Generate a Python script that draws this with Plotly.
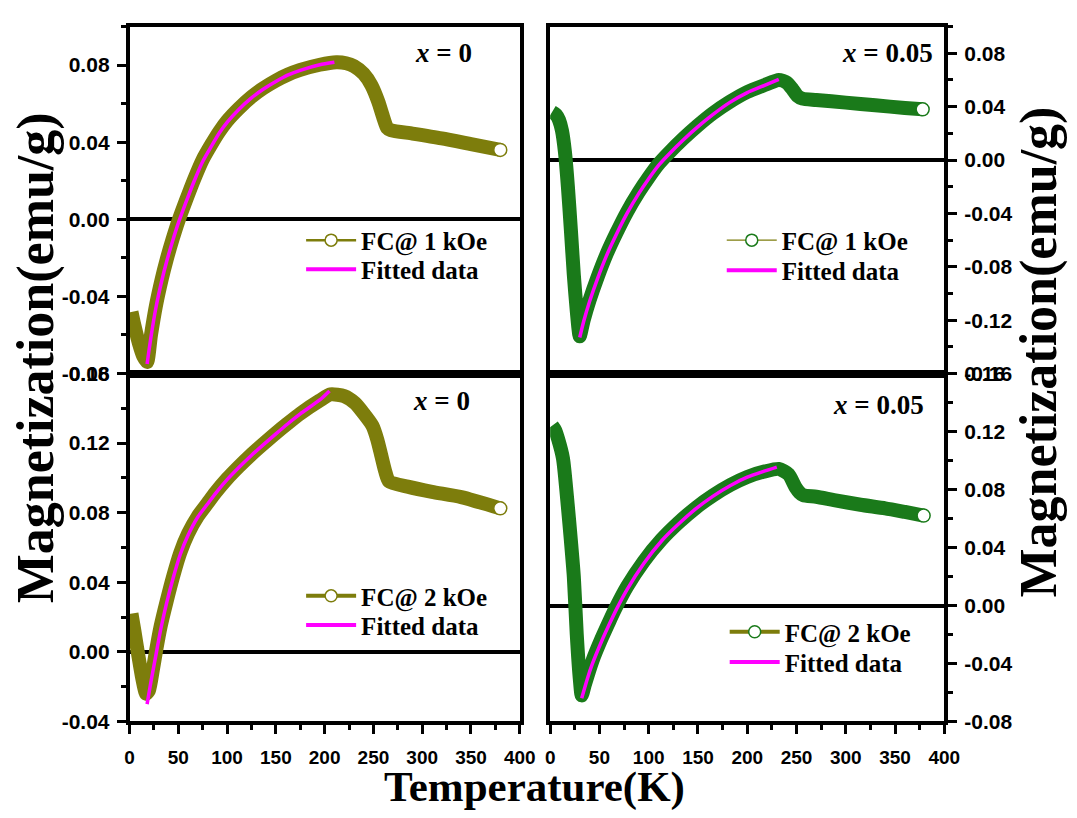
import plotly.graph_objects as go

# ---------------- data ----------------
# Panel a: x = 0, FC @ 1 kOe
T_a = [2, 5, 10, 14, 18, 22, 27, 33, 38, 44, 50, 58, 66, 75, 84, 92, 100, 112, 125, 137, 150,
       162, 175, 195, 212, 222, 230, 240, 248, 255, 260, 264, 268, 290, 320, 350, 380]
M_a = [-0.048, -0.055, -0.065, -0.071, -0.074, -0.060, -0.045, -0.031, -0.021, -0.0105, -0.001,
       0.010, 0.0205, 0.031, 0.039, 0.0455, 0.051, 0.0575, 0.0635, 0.068, 0.072,
       0.075, 0.0775, 0.0802, 0.0815, 0.081, 0.0795, 0.0755, 0.0695, 0.061, 0.053, 0.0475,
       0.0462, 0.0445, 0.042, 0.039, 0.036]
Tfit_a = [18, 22, 27, 33, 38, 44, 50, 58, 66, 75, 84, 92, 100, 112, 125, 137, 150, 162, 175, 195, 210]
Mfit_a = [-0.075, -0.061, -0.046, -0.032, -0.022, -0.0115, -0.002, 0.009, 0.0195, 0.030, 0.038,
          0.0448, 0.0503, 0.057, 0.063, 0.0675, 0.0715, 0.0748, 0.0773, 0.0802, 0.0815]

# Panel b: x = 0.05, FC @ 1 kOe
T_b = [2, 6, 9, 12, 15, 18, 21, 24, 27, 30, 34, 40, 48, 57, 67, 78, 90, 100, 110, 120, 135,
       150, 165, 182, 200, 217, 232, 240, 246, 251, 256, 270, 300, 330, 360, 378]
M_b = [0.036, 0.034, 0.030, 0.022, 0.006, -0.020, -0.052, -0.086, -0.113, -0.132, -0.120,
       -0.105, -0.088, -0.071, -0.055, -0.039, -0.024, -0.013, -0.003, 0.005, 0.016,
       0.026, 0.035, 0.0435, 0.051, 0.056, 0.060, 0.058, 0.053, 0.048, 0.046, 0.045, 0.043,
       0.041, 0.039, 0.038]
Tfit_b = [30, 34, 40, 48, 57, 67, 78, 90, 100, 110, 120, 135, 150, 165, 182, 200, 217, 232]
Mfit_b = [-0.133, -0.121, -0.106, -0.089, -0.072, -0.056, -0.040, -0.025, -0.014, -0.004,
          0.004, 0.015, 0.025, 0.034, 0.043, 0.0505, 0.0558, 0.0605]

# Panel c: x = 0, FC @ 2 kOe
T_c = [2, 5, 9, 13, 17, 20, 24, 27, 32, 38, 45, 52, 60, 70, 80, 88, 100, 112, 124, 137, 150,
       162, 175, 195, 206, 220, 231, 240, 249, 254, 258, 262, 266, 285, 310, 340, 380]
M_c = [0.022, 0.012, -0.002, -0.015, -0.024, -0.022, -0.010, 0.000, 0.015, 0.029, 0.044,
       0.057, 0.068, 0.078, 0.0855, 0.0915, 0.0995, 0.1065, 0.113, 0.1195, 0.1258,
       0.1313, 0.137, 0.1445, 0.148, 0.147, 0.143, 0.137, 0.130, 0.122, 0.113, 0.104, 0.098,
       0.095, 0.092, 0.089, 0.0825]
Tfit_c = [18, 22, 27, 32, 38, 45, 52, 60, 70, 80, 88, 100, 112, 124, 137, 150, 162, 175, 195, 205]
Mfit_c = [-0.030, -0.017, -0.002, 0.013, 0.028, 0.043, 0.056, 0.067, 0.0775, 0.085, 0.091,
          0.099, 0.106, 0.1125, 0.119, 0.1253, 0.131, 0.1368, 0.1448, 0.150]

# Panel d: x = 0.05, FC @ 2 kOe
T_d = [2, 5, 8, 13, 18, 21, 24, 27, 30, 32, 35, 43, 52, 60, 67, 78, 95, 113, 130, 148, 165,
       183, 200, 218, 232, 242, 249, 253, 257, 270, 288, 315, 340, 360, 379]
M_d = [0.124, 0.121, 0.115, 0.1015, 0.068, 0.045, 0.020, -0.020, -0.050, -0.062, -0.055,
       -0.038, -0.023, -0.011, -0.001, 0.013, 0.0305, 0.0455, 0.057, 0.0675, 0.0758,
       0.0832, 0.0887, 0.0925, 0.0942, 0.0904, 0.0816, 0.078, 0.076, 0.075, 0.0727, 0.0695,
       0.067, 0.0645, 0.062]
Tfit_d = [32, 38, 43, 52, 60, 67, 78, 95, 113, 130, 148, 165, 183, 200, 218, 230]
Mfit_d = [-0.064, -0.050, -0.040, -0.025, -0.013, -0.003, 0.011, 0.029, 0.0445, 0.056,
          0.0668, 0.0753, 0.0828, 0.0885, 0.0928, 0.0955]

x_ticks = [0, 50, 100, 150, 200, 250, 300, 350, 400]
x_ticktext = ["0", "50", "100", "150", "200", "250", "300", "350", "400"]
ya_ticks = [-0.08, -0.04, 0.00, 0.04, 0.08]
ya_text = ["-0.08", "-0.04", "0.00", "0.04", "0.08"]
yb_ticks = [-0.16, -0.12, -0.08, -0.04, 0.00, 0.04, 0.08]
yb_text = ["-0.16", "-0.12", "-0.08", "-0.04", "0.00", "0.04", "0.08"]
yc_ticks = [-0.04, 0.00, 0.04, 0.08, 0.12, 0.16]
yc_text = ["-0.04", "0.00", "0.04", "0.08", "0.12", "0.16"]
yd_ticks = [-0.08, -0.04, 0.00, 0.04, 0.08, 0.12, 0.16]
yd_text = ["-0.08", "-0.04", "0.00", "0.04", "0.08", "0.12", "0.16"]

panel_labels = ["x = 0", "x = 0.05", "x = 0", "x = 0.05"]
legend_names = ["FC@ 1 kOe", "FC@ 1 kOe", "FC@ 2 kOe", "FC@ 2 kOe"]
fit_name = "Fitted data"

# ---------------- styling ----------------
W, H = 1077, 818
OLIVE = "#7d7d0c"
GREEN = "#1a7a1a"
MAGENTA = "#ff00ff"
SERIF = "Liberation Serif"
SANS = "Liberation Sans"


def px_x(p):
    return p / W


def px_y(p):
    return 1 - p / H


LX = [px_x(127), px_x(525)]
RX = [px_x(556), px_x(958)]
TY = [px_y(372), px_y(15)]
BY = [px_y(730), px_y(372)]

fig = go.Figure()

panels = [
    dict(T=T_a, M=M_a, Tf=Tfit_a, Mf=Mfit_a, col=OLIVE, xa="x", ya="y"),
    dict(T=T_b, M=M_b, Tf=Tfit_b, Mf=Mfit_b, col=GREEN, xa="x2", ya="y2"),
    dict(T=T_c, M=M_c, Tf=Tfit_c, Mf=Mfit_c, col=OLIVE, xa="x3", ya="y3"),
    dict(T=T_d, M=M_d, Tf=Tfit_d, Mf=Mfit_d, col=GREEN, xa="x4", ya="y4"),
]
legend_line_w = [2.5, 1.2, 4, 4]
# legend placement (pixels): symbol start x, row1 centre y, row2 centre y
legend_pos = [(302, 235, 265), (731, 235, 266), (302, 601, 631), (734, 638, 669)]

legfont = dict(family=SERIF, size=25, color="black", weight="bold")
leg_layout = {}

for i, p in enumerate(panels):
    # thick band of measured data
    fig.add_trace(go.Scatter(
        x=p["T"], y=p["M"], mode="lines", xaxis=p["xa"], yaxis=p["ya"],
        line=dict(color=p["col"], width=14, shape="spline", smoothing=0.6),
        showlegend=False, hoverinfo="skip"))
    # open circle at the final point
    fig.add_trace(go.Scatter(
        x=p["T"][-1:], y=p["M"][-1:], mode="markers", xaxis=p["xa"], yaxis=p["ya"],
        marker=dict(symbol="circle", size=13, color="white",
                    line=dict(color=p["col"], width=1.5)),
        showlegend=False, hoverinfo="skip"))
    # fitted curve
    fig.add_trace(go.Scatter(
        x=p["Tf"], y=p["Mf"], mode="lines", xaxis=p["xa"], yaxis=p["ya"],
        line=dict(color=MAGENTA, width=3.5, shape="spline", smoothing=0.6),
        showlegend=False, hoverinfo="skip"))
    # legend entries (one legend per row, so the rows sit exactly where the reference has them)
    l1 = "legend" if i == 0 else "legend%d" % (2 * i + 1)
    l2 = "legend%d" % (2 * i + 2)
    fig.add_trace(go.Scatter(
        x=[None], y=[None], mode="lines+markers", xaxis=p["xa"], yaxis=p["ya"],
        name=legend_names[i], legend=l1,
        line=dict(color=OLIVE, width=legend_line_w[i]),
        marker=dict(symbol="circle", size=12, color="white",
                    line=dict(color=p["col"], width=1.5))))
    fig.add_trace(go.Scatter(
        x=[None], y=[None], mode="lines", xaxis=p["xa"], yaxis=p["ya"],
        name=fit_name, legend=l2,
        line=dict(color=MAGENTA, width=4)))
    lx, r1, r2 = legend_pos[i]
    for key, ry in ((l1, r1), (l2, r2)):
        leg_layout[key] = dict(font=legfont, bgcolor="rgba(0,0,0,0)", borderwidth=0,
                               itemwidth=50, xanchor="left", yanchor="middle",
                               x=px_x(lx), y=px_y(ry), itemclick=False,
                               itemdoubleclick=False)

ytickfont = dict(family=SANS, size=21, color="black", weight="bold")
xtickfont = dict(family=SANS, size=19, color="black", weight="bold")

common_x = dict(range=[0, 400], showgrid=False, zeroline=False, showline=True,
                linecolor="black", linewidth=3.5, mirror=True,
                tickvals=x_ticks, ticktext=x_ticktext, tickfont=xtickfont)
top_x = dict(common_x, ticks="", showticklabels=False)
bot_x = dict(common_x, ticks="outside", ticklen=9, tickwidth=3, tickcolor="black",
             ticklabelstandoff=7,
             minor=dict(ticks="outside", dtick=25, ticklen=5, tickwidth=3, tickcolor="black"))

common_y = dict(showgrid=False, zeroline=True, zerolinecolor="black", zerolinewidth=3.5,
                showline=True, linecolor="black", linewidth=3.5, mirror=True,
                ticks="outside", ticklen=9, tickwidth=3, tickcolor="black",
                minor=dict(ticks="outside", dtick=0.02, ticklen=5, tickwidth=3, tickcolor="black"),
                tickfont=ytickfont, ticklabelstandoff=3)

fig.update_layout(
    width=W, height=H,
    margin=dict(l=0, r=0, t=0, b=0),
    paper_bgcolor="white", plot_bgcolor="white",
    xaxis=dict(top_x, domain=LX, anchor="y"),
    yaxis=dict(common_y, domain=TY, anchor="x", range=[-0.08, 0.10], side="left",
               tickvals=ya_ticks, ticktext=ya_text),
    xaxis2=dict(top_x, domain=RX, anchor="y2"),
    yaxis2=dict(common_y, domain=TY, anchor="x2", range=[-0.16, 0.10], side="right",
                tickvals=yb_ticks, ticktext=yb_text),
    xaxis3=dict(bot_x, domain=LX, anchor="y3"),
    yaxis3=dict(common_y, domain=BY, anchor="x3", range=[-0.04, 0.16], side="left",
                tickvals=yc_ticks, ticktext=yc_text),
    xaxis4=dict(bot_x, domain=RX, anchor="y4"),
    yaxis4=dict(common_y, domain=BY, anchor="x4", range=[-0.08, 0.16], side="right",
                tickvals=yd_ticks, ticktext=yd_text),
    showlegend=True,
    **leg_layout,
)

# panel labels
label_pos = [(447, 42), (900, 42), (445, 400), (891, 404)]
for txt, (cx, cy) in zip(panel_labels, label_pos):
    head, tail = txt.split(" ", 1)
    fig.add_annotation(text="<b><i>%s</i> %s</b>" % (head, tail), xref="paper", yref="paper",
                       x=px_x(cx), y=px_y(cy), xanchor="center", yanchor="middle",
                       showarrow=False, font=dict(family=SERIF, size=27, color="black"))

# axis titles
title_font = dict(family=SERIF, size=52, color="black")
fig.add_annotation(text="<b>Magnetization(emu/g)</b>", xref="paper", yref="paper",
                   x=px_x(32), y=px_y(356), xanchor="center", yanchor="middle",
                   textangle=-90, showarrow=False, font=title_font)
fig.add_annotation(text="<b>Magnetization(emu/g)</b>", xref="paper", yref="paper",
                   x=px_x(1055), y=px_y(350), xanchor="center", yanchor="middle",
                   textangle=-90, showarrow=False, font=title_font)
fig.add_annotation(text="<b>Temperature(K)</b>", xref="paper", yref="paper",
                   x=px_x(540), y=px_y(797), xanchor="center", yanchor="middle",
                   showarrow=False, font=dict(family=SERIF, size=43, color="black"))

fig.write_html("out.html")
